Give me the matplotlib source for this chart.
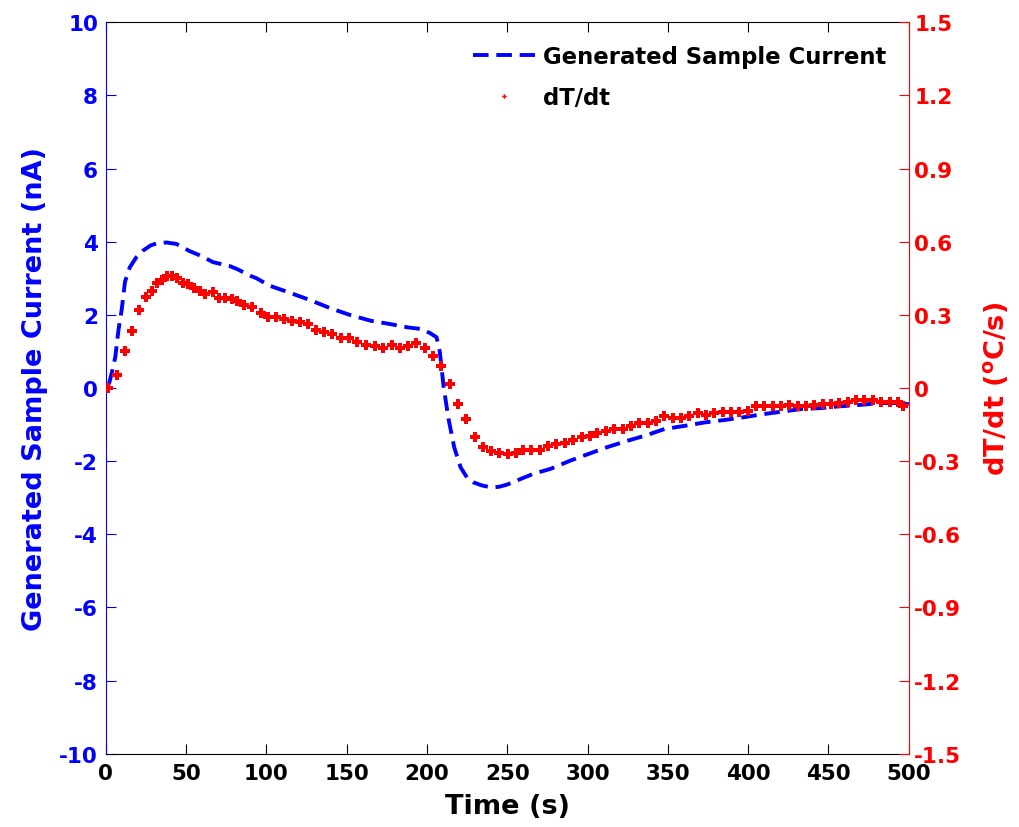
import matplotlib
matplotlib.use('Agg')
import matplotlib.pyplot as plt

plt.rcParams['font.family'] = 'DejaVu Sans'
plt.rcParams['font.weight'] = 'bold'
plt.rcParams['axes.unicode_minus'] = False

# generated sample current (nA)
t_cur = [2, 4, 6, 8, 10, 12, 15, 19, 23, 28, 32, 38, 44, 52, 59, 67, 77, 82,
         90, 94, 102, 115, 127, 140, 152, 165, 177, 188, 197, 202, 206, 208,
         210.5, 213.5, 217, 221, 225, 229, 234, 240, 245, 250, 256, 266, 277,
         289, 302, 312, 325, 336, 348, 361, 373, 386, 397, 410, 422, 434, 445,
         457, 470, 482, 493, 500]
current = [0.1, 0.45, 0.85, 1.6, 2.15, 2.9, 3.3, 3.57, 3.75, 3.9, 3.96, 3.98,
           3.94, 3.75, 3.62, 3.44, 3.34, 3.25, 3.07, 3.0, 2.8, 2.6, 2.41, 2.18,
           2.0, 1.84, 1.75, 1.66, 1.61, 1.5, 1.39, 1.0, 0.0, -0.85, -1.62,
           -2.17, -2.45, -2.58, -2.66, -2.72, -2.7, -2.64, -2.53, -2.35, -2.21,
           -1.99, -1.78, -1.62, -1.44, -1.30, -1.12, -1.03, -0.94, -0.87,
           -0.80, -0.71, -0.64, -0.57, -0.55, -0.50, -0.46, -0.41, -0.41, -0.44]

# dT/dt (C/s)
t_rate = [1.6, 6.8, 12, 16.6, 20.7, 25, 28.6, 32, 35, 38.4, 41.5, 44.6, 48,
          51.4, 55, 58.7, 62, 66.6, 70.7, 74.5, 78.5, 81.7, 86, 91.4, 96.5,
          101.3, 106, 111, 115.8, 121, 125.8, 131, 136, 141, 146.3, 151.5,
          156.6, 161.9, 167.7, 172.8, 178, 183.3, 188.4, 193.5, 198.7, 203.8,
          209, 214.2, 219.4, 224.6, 229.7, 234.9, 239.9, 245.1, 250.3, 255.5,
          259.9, 265, 270.3, 275.5, 280.6, 285.8, 291, 296.3, 301.3, 306.2,
          311.6, 316.7, 321.9, 327.1, 332.3, 337.5, 342.7, 347.8, 353, 358.2,
          363.4, 368.6, 373.8, 379, 384.2, 389.4, 394.5, 399.7, 404.9, 410.1,
          415.3, 420.5, 425.7, 430.9, 436, 441.2, 446.4, 451.6, 456.8, 462,
          467.2, 472.4, 477.6, 482.7, 488.3, 493.5, 496.6]
rate = [0.0, 0.053, 0.153, 0.233, 0.32, 0.375, 0.40, 0.43, 0.443, 0.46, 0.46,
        0.452, 0.43, 0.426, 0.41, 0.397, 0.386, 0.394, 0.368, 0.368, 0.364,
        0.358, 0.34, 0.334, 0.307, 0.29, 0.29, 0.283, 0.273, 0.27, 0.261,
        0.239, 0.228, 0.221, 0.204, 0.204, 0.187, 0.176, 0.171, 0.164, 0.176,
        0.165, 0.171, 0.183, 0.164, 0.13, 0.091, 0.016, -0.067, -0.128, -0.2,
        -0.24, -0.26, -0.265, -0.272, -0.265, -0.254, -0.254, -0.254, -0.237,
        -0.231, -0.226, -0.213, -0.201, -0.196, -0.185, -0.175, -0.168,
        -0.168, -0.157, -0.144, -0.144, -0.134, -0.114, -0.123, -0.123,
        -0.114, -0.104, -0.111, -0.104, -0.1, -0.1, -0.1, -0.093, -0.075,
        -0.075, -0.075, -0.075, -0.068, -0.075, -0.075, -0.068, -0.066,
        -0.066, -0.063, -0.056, -0.048, -0.048, -0.048, -0.056, -0.056,
        -0.056, -0.072]

x_ticks = list(range(0, 501, 50))
left_ticks = list(range(-10, 11, 2))
right_ticks = [-1.5, -1.2, -0.9, -0.6, -0.3, 0, 0.3, 0.6, 0.9, 1.2, 1.5]
right_labels = ['-1.5', '-1.2', '-0.9', '-0.6', '-0.3', '0', '0.3', '0.6',
                '0.9', '1.2', '1.5']

BLUE = '#0000ff'
RED = '#ff0000'

fig = plt.figure(figsize=(10.19, 8.28), dpi=100)
ax1 = fig.add_axes([0.1037, 0.0885, 0.7881, 0.8833])
ax2 = ax1.twinx()

l1, = ax1.plot(t_cur, current, color=BLUE, lw=2.8, dashes=(4, 2),
               label='Generated Sample Current')
l2, = ax2.plot(t_rate, rate, 'P', color=RED, ms=6.5, mew=0, label='dT/dt')

ax1.set_xlim(0, 500)
ax1.set_ylim(-10, 10)
ax2.set_ylim(-1.5, 1.5)
ax1.set_xticks(x_ticks)
ax1.set_yticks(left_ticks)
ax2.set_yticks(right_ticks)
ax2.set_yticklabels(right_labels)

ax1.tick_params(axis='x', direction='in', length=7, top=True, pad=7,
                labelsize=15.5, colors='black')
ax1.tick_params(axis='y', direction='in', length=7, pad=5.5, labelsize=15.5,
                colors=BLUE)
ax2.tick_params(axis='y', direction='in', length=7, pad=4, labelsize=15.5,
                colors=RED)

ax1.spines['left'].set_color(BLUE)
ax1.spines['right'].set_visible(False)
ax2.spines['right'].set_color(RED)
ax2.spines['left'].set_visible(False)
ax2.spines['top'].set_visible(False)
ax2.spines['bottom'].set_visible(False)

ax1.set_xlabel('Time (s)', fontsize=19.5, fontweight='bold', labelpad=7)
ax1.set_ylabel('Generated Sample Current (nA)', fontsize=19.5,
               fontweight='bold', color=BLUE, labelpad=8)
ax2.set_ylabel(r'dT/dt ($^{\mathbf{o}}$C/s)', fontsize=19.5,
               fontweight='bold', color=RED, labelpad=14)

ax2.legend([l1, l2], ['Generated Sample Current', 'dT/dt'], loc='upper right',
           frameon=False, fontsize=16.4, handlelength=2.7,
           handletextpad=0.35, markerscale=0.5, borderaxespad=0.6,
           labelspacing=0.8)

fig.savefig('out.png', dpi=100)
